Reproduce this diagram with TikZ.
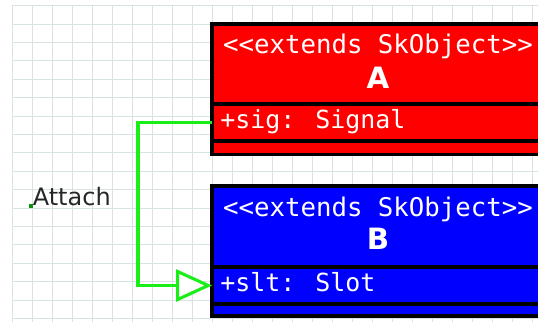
\documentclass[tikz,border=0pt]{standalone}
\usepackage{fontspec}
\setmainfont{DejaVu Sans}
\newfontfamily\umlmono{DejaVu Sans Mono}
\usetikzlibrary{positioning,arrows.meta}
\definecolor{gridgrey}{RGB}{216,226,229}
\definecolor{sigred}{RGB}{255,0,0}
\definecolor{slotblue}{RGB}{0,0,255}
\definecolor{linkgreen}{RGB}{25,238,25}

\begin{document}
\begin{tikzpicture}[x=0.75pt,y=-0.75pt,
    gridline/.style={draw=gridgrey, line width=0.6pt},
    compart/.style={draw=black, line width=2.6pt, minimum width=249pt, inner sep=0pt, outer sep=0pt},
    stereo/.style={text=white, font=\umlmono\fontsize{19.3}{22}\selectfont, inner sep=0pt},
    clsname/.style={text=white, font=\bfseries\fontsize{22}{26}\selectfont, inner sep=0pt},
    member/.style={text=white, font=\umlmono\fontsize{18.7}{22}\selectfont, inner sep=0pt, anchor=base west},
    link/.style={draw=linkgreen, line width=2.3pt, -{Triangle[length=27pt,width=24pt,fill=white]}}]

    \useasboundingbox (0,0) rectangle (538,322);
    \clip (0,0) rectangle (538,322);

    % grid
    \foreach \x in {12,32,...,532}
        \draw[gridline] (\x,5.6) -- (\x,322);
    \foreach \y in {5.6,24.0,...,320}
        \draw[gridline] (12,\y) -- (538,\y);

    % class A
    \node[compart, fill=sigred, anchor=north west, minimum height=60pt] (Ahead) at (212,24) {};
    \node[compart, fill=sigred, minimum height=27.75pt, below=0pt of Ahead] (Aattr) {};
    \node[compart, fill=sigred, minimum height=10pt, below=0pt of Aattr] (Aops) {};
    \node[stereo, anchor=base] (Astereo) at (378,53) {<<extends SkObject>>};
    \node[clsname, anchor=base] (Aname) at (378,88) {A};
    \node[member] (Asig) at (220,128) {+sig: Signal};

    % class B
    \node[compart, fill=slotblue, anchor=north west, minimum height=60.75pt] (Bhead) at (212,186) {};
    \node[compart, fill=slotblue, minimum height=27.75pt, below=0pt of Bhead] (Battr) {};
    \node[compart, fill=slotblue, minimum height=9pt, below=0pt of Battr] (Bops) {};
    \node[stereo, anchor=base] (Bstereo) at (378,216) {<<extends SkObject>>};
    \node[clsname, anchor=base] (Bname) at (378,249) {B};
    \node[member] (Bslt) at (220,291) {+slt: Slot};

    % connection
    \draw[link] (Aattr.west) -- ++(-74,0) |- (Battr.west);

    \node[fill=linkgreen!60!black, inner sep=0pt, minimum size=2.5pt] (pin) at (31,206) {};
    \node[anchor=base west, inner sep=0pt, text=black!85, font=\fontsize{18}{21}\selectfont] (attach) at (32.5,205) {Attach};
\end{tikzpicture}
\end{document}
